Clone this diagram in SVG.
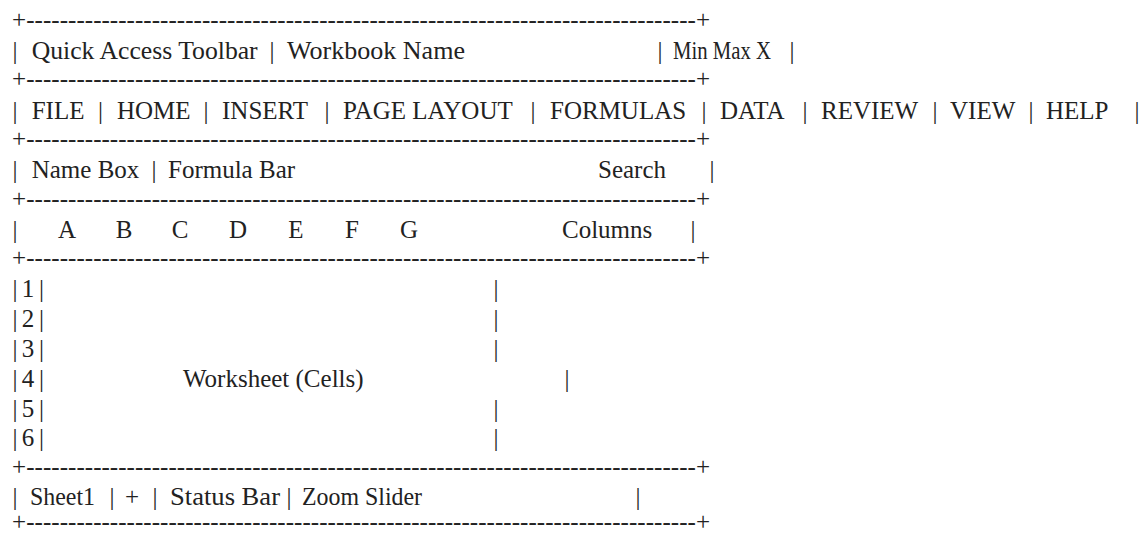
<svg xmlns="http://www.w3.org/2000/svg" width="1146" height="536" viewBox="0 0 1146 536">
<style>
text{font-family:"Liberation Serif",serif;font-size:25px;fill:#222}
.m{text-anchor:middle}
</style>
<rect width="1146" height="536" fill="#fff"/>
<g font-family="Liberation Serif, serif">
<g id="borders">
<text x="12" y="27.8" textLength="698" lengthAdjust="spacing">+--------------------------------------------------------------------------------+</text>
<text x="12" y="87.4" textLength="698" lengthAdjust="spacing">+--------------------------------------------------------------------------------+</text>
<text x="12" y="147" textLength="698" lengthAdjust="spacing">+--------------------------------------------------------------------------------+</text>
<text x="12" y="206.6" textLength="698" lengthAdjust="spacing">+--------------------------------------------------------------------------------+</text>
<text x="12" y="266.2" textLength="698" lengthAdjust="spacing">+--------------------------------------------------------------------------------+</text>
<text x="12" y="474.8" textLength="698" lengthAdjust="spacing">+--------------------------------------------------------------------------------+</text>
<text x="12" y="530.4" textLength="698" lengthAdjust="spacing">+--------------------------------------------------------------------------------+</text>
</g>
<g id="title-bar">
<text class="m" x="15" y="59">|</text>
<text x="31.7" y="59" textLength="226" lengthAdjust="spacingAndGlyphs">Quick Access Toolbar</text>
<text class="m" x="272" y="59">|</text>
<text x="287" y="59" textLength="178" lengthAdjust="spacingAndGlyphs">Workbook Name</text>
<text class="m" x="660" y="59">|</text>
<text x="673" y="59" textLength="98" lengthAdjust="spacingAndGlyphs">Min Max X</text>
<text class="m" x="792" y="59">|</text>
</g>
<g id="ribbon-tabs">
<text class="m" x="15" y="118.6">|</text>
<text x="31.7" y="118.6">FILE</text>
<text class="m" x="100.5" y="118.6">|</text>
<text x="117" y="118.6">HOME</text>
<text class="m" x="206" y="118.6">|</text>
<text x="222" y="118.6">INSERT</text>
<text class="m" x="327" y="118.6">|</text>
<text x="343" y="118.6">PAGE LAYOUT</text>
<text class="m" x="533" y="118.6">|</text>
<text x="550" y="118.6">FORMULAS</text>
<text class="m" x="704" y="118.6">|</text>
<text x="720" y="118.6">DATA</text>
<text class="m" x="805" y="118.6">|</text>
<text x="821" y="118.6">REVIEW</text>
<text class="m" x="935" y="118.6">|</text>
<text x="950" y="118.6">VIEW</text>
<text class="m" x="1031" y="118.6">|</text>
<text x="1046" y="118.6">HELP</text>
<text class="m" x="1137" y="118.6">|</text>
</g>
<g id="formula-bar">
<text class="m" x="15" y="178.2">|</text>
<text x="31.7" y="178.2">Name Box</text>
<text class="m" x="154" y="178.2">|</text>
<text x="168" y="178.2">Formula Bar</text>
<text x="598" y="178.2">Search</text>
<text class="m" x="712" y="178.2">|</text>
</g>
<g id="column-headers">
<text class="m" x="15" y="237.8">|</text>
<text class="m" x="67" y="237.8">A</text>
<text class="m" x="124" y="237.8">B</text>
<text class="m" x="180" y="237.8">C</text>
<text class="m" x="238" y="237.8">D</text>
<text class="m" x="296" y="237.8">E</text>
<text class="m" x="352" y="237.8">F</text>
<text class="m" x="409" y="237.8">G</text>
<text x="562" y="237.8">Columns</text>
<text class="m" x="693" y="237.8">|</text>
</g>
<g id="worksheet">
<text class="m" x="15" y="297.4">|</text><text class="m" x="28" y="297.4">1</text><text class="m" x="41.5" y="297.4">|</text><text class="m" x="496" y="297.4">|</text>
<text class="m" x="15" y="327.2">|</text><text class="m" x="28" y="327.2">2</text><text class="m" x="41.5" y="327.2">|</text><text class="m" x="496" y="327.2">|</text>
<text class="m" x="15" y="357">|</text><text class="m" x="28" y="357">3</text><text class="m" x="41.5" y="357">|</text><text class="m" x="496" y="357">|</text>
<text class="m" x="15" y="386.8">|</text><text class="m" x="28" y="386.8">4</text><text class="m" x="41.5" y="386.8">|</text><text x="183" y="386.8">Worksheet (Cells)</text><text class="m" x="567" y="386.8">|</text>
<text class="m" x="15" y="416.6">|</text><text class="m" x="28" y="416.6">5</text><text class="m" x="41.5" y="416.6">|</text><text class="m" x="496" y="416.6">|</text>
<text class="m" x="15" y="446.4">|</text><text class="m" x="28" y="446.4">6</text><text class="m" x="41.5" y="446.4">|</text><text class="m" x="496" y="446.4">|</text>
</g>
<g id="status-bar">
<text class="m" x="15" y="505">|</text>
<text x="30" y="505" textLength="65" lengthAdjust="spacingAndGlyphs">Sheet1</text>
<text class="m" x="112" y="505">|</text>
<text class="m" x="132" y="505">+</text>
<text class="m" x="155" y="505">|</text>
<text x="170" y="505" textLength="110" lengthAdjust="spacingAndGlyphs">Status Bar</text>
<text class="m" x="289" y="505">|</text>
<text x="302" y="505" textLength="120" lengthAdjust="spacingAndGlyphs">Zoom Slider</text>
<text class="m" x="638" y="505">|</text>
</g>
</g>
</svg>
